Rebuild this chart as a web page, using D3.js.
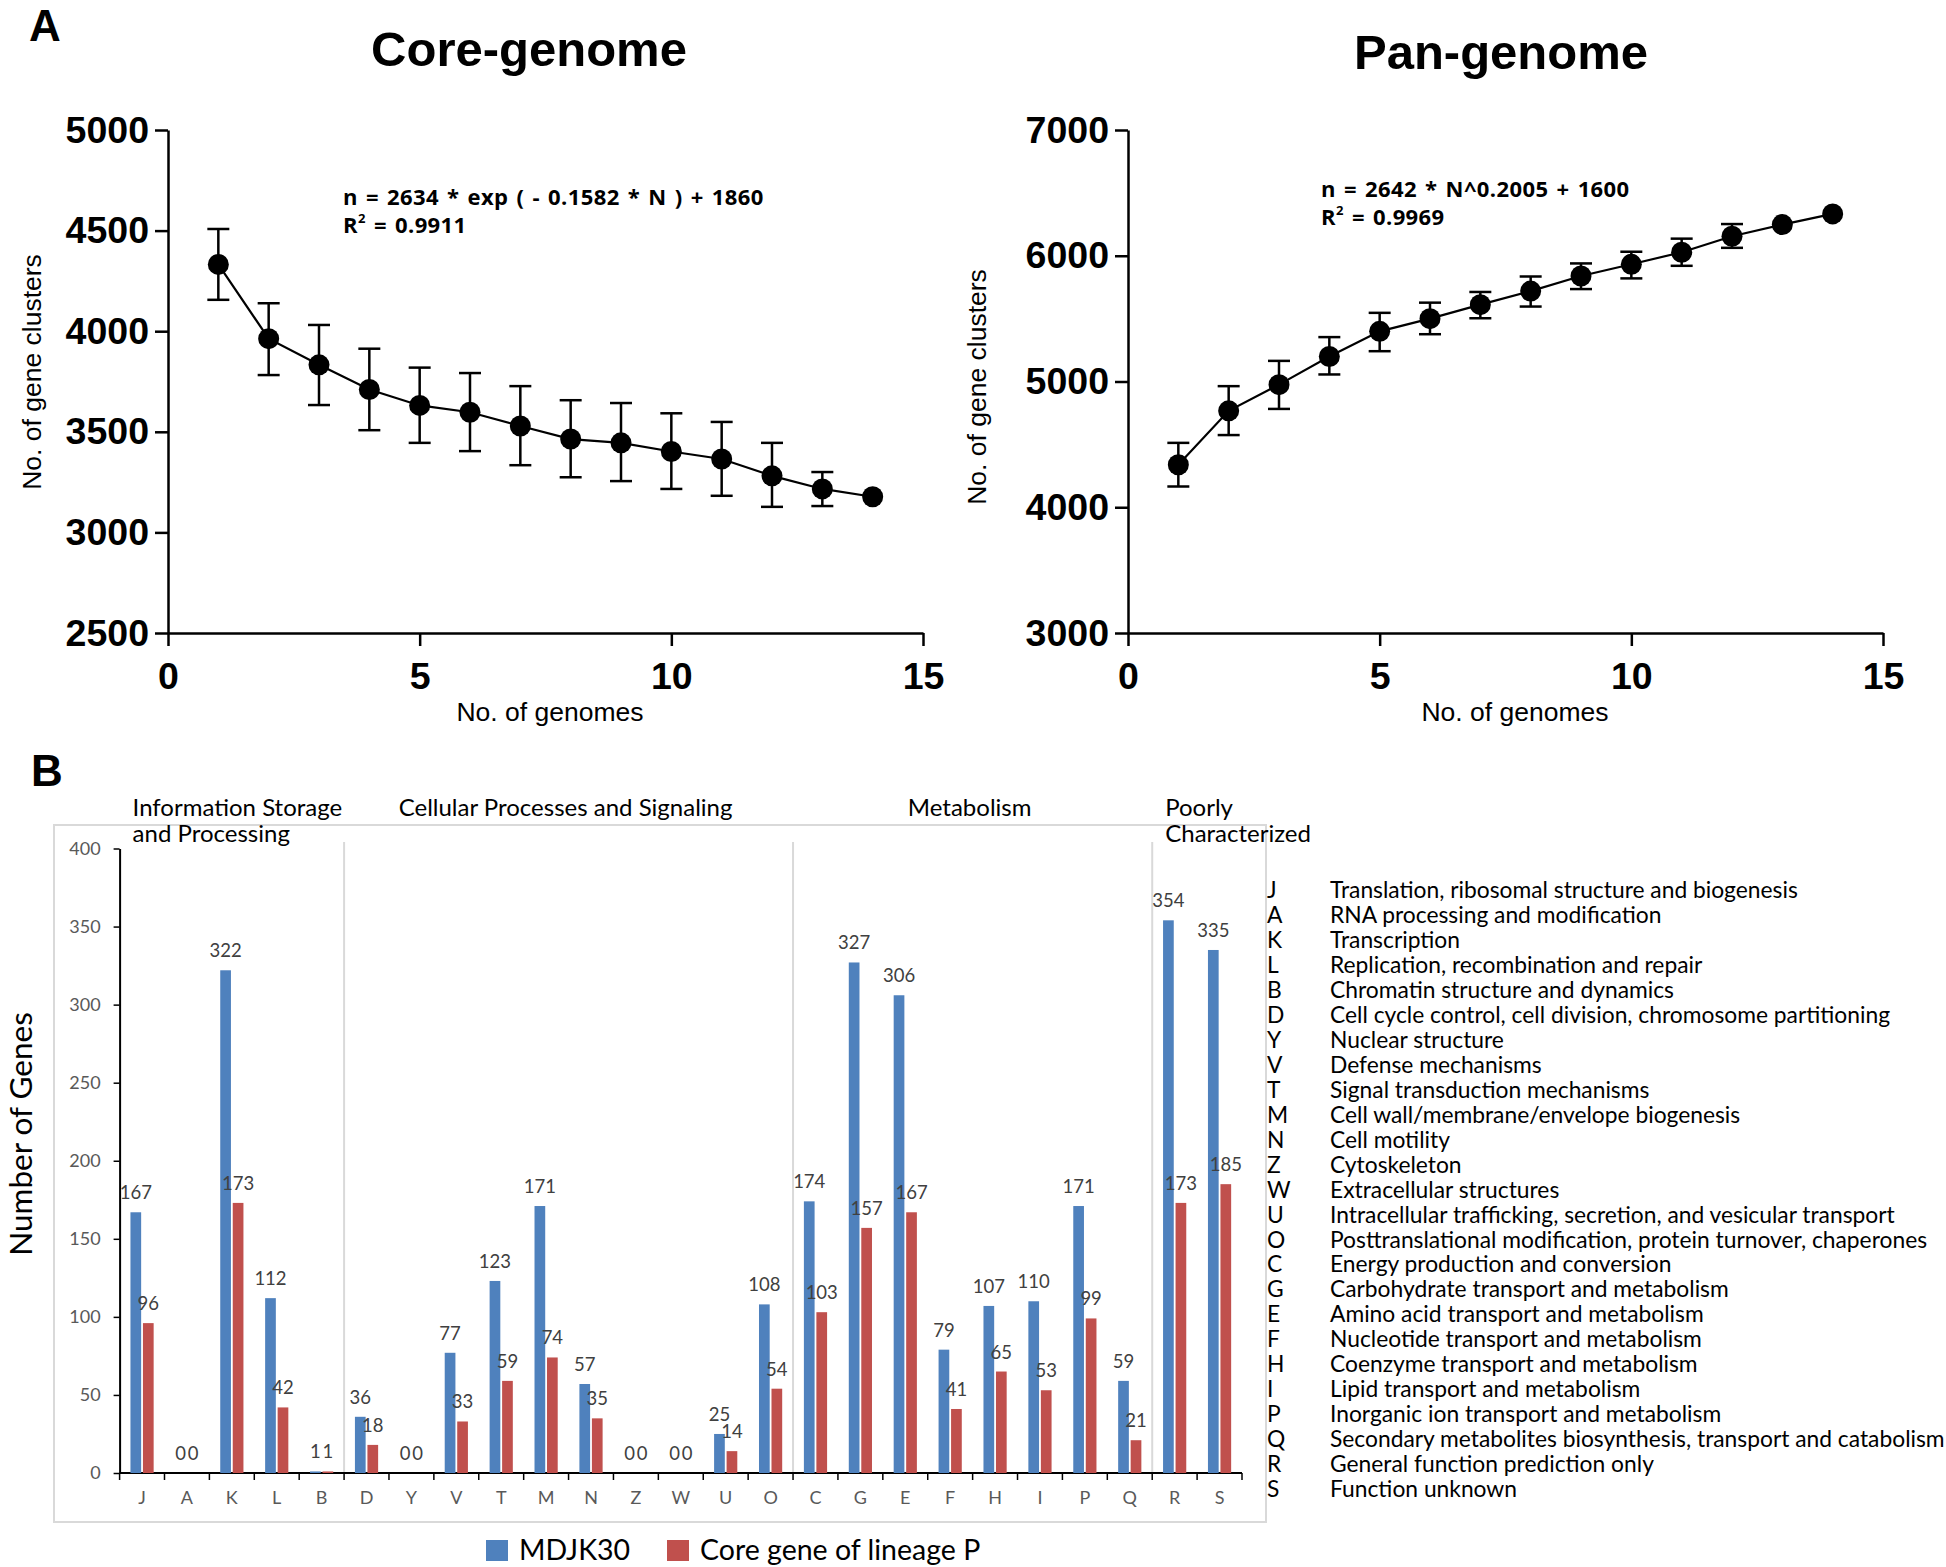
<!DOCTYPE html>
<html>
<head>
<meta charset="utf-8">
<script src="https://cdn.jsdelivr.net/npm/d3@7"></script>
<style>
body { margin: 0; background: #fff; }
</style>
</head>
<body>
<div id="chart"></div>
<script>
// panel A data
var genomes = [1, 2, 3, 4, 5, 6, 7, 8, 9, 10, 11, 12, 13, 14];
var coreMean = [4332, 3963, 3833, 3710, 3631, 3597, 3529, 3464, 3445, 3402, 3365, 3281, 3216, 3177];
var coreLow  = [4156, 3782, 3633, 3508, 3445, 3404, 3334, 3274, 3255, 3216, 3182, 3127, 3131, 3177];
var coreHigh = [4508, 4139, 4031, 3913, 3819, 3792, 3727, 3657, 3643, 3592, 3549, 3445, 3300, 3177];
var panMean = [4338, 4767, 4975, 5199, 5399, 5500, 5611, 5719, 5839, 5932, 6028, 6155, 6248, 6333];
var panLow  = [4165, 4574, 4782, 5056, 5241, 5376, 5503, 5596, 5735, 5820, 5920, 6063, 6248, 6333];
var panHigh = [4512, 4963, 5164, 5353, 5546, 5627, 5712, 5835, 5939, 6032, 6136, 6252, 6248, 6333];
var xTicks = [0, 5, 10, 15];
var coreTicks = [2500, 3000, 3500, 4000, 4500, 5000];
var panTicks = [3000, 4000, 5000, 6000, 7000];

// panel B data
var categories = ["J","A","K","L","B","D","Y","V","T","M","N","Z","W","U","O","C","G","E","F","H","I","P","Q","R","S"];
var mdjk30 = [167, 0, 322, 112, 1, 36, 0, 77, 123, 171, 57, 0, 0, 25, 108, 174, 327, 306, 79, 107, 110, 171, 59, 354, 335];
var coreP  = [96, 0, 173, 42, 1, 18, 0, 33, 59, 74, 35, 0, 0, 14, 54, 103, 157, 167, 41, 65, 53, 99, 21, 173, 185];
var barTicks = [0, 50, 100, 150, 200, 250, 300, 350, 400];
var groupNames = [["Information Storage", "and Processing"], ["Cellular Processes and Signaling"], ["Metabolism"], ["Poorly", "Characterized"]];
var groupStart = [0, 5, 15, 23];
var groupEnd = [5, 15, 23, 25];
var cogNames = [
	"Translation, ribosomal structure and biogenesis",
	"RNA processing and modification",
	"Transcription",
	"Replication, recombination and repair",
	"Chromatin structure and dynamics",
	"Cell cycle control, cell division, chromosome partitioning",
	"Nuclear structure",
	"Defense mechanisms",
	"Signal transduction mechanisms",
	"Cell wall/membrane/envelope biogenesis",
	"Cell motility",
	"Cytoskeleton",
	"Extracellular structures",
	"Intracellular trafficking, secretion, and vesicular transport",
	"Posttranslational modification, protein turnover, chaperones",
	"Energy production and conversion",
	"Carbohydrate transport and metabolism",
	"Amino acid transport and metabolism",
	"Nucleotide transport and metabolism",
	"Coenzyme transport and metabolism",
	"Lipid transport and metabolism",
	"Inorganic ion transport and metabolism",
	"Secondary metabolites biosynthesis, transport and catabolism",
	"General function prediction only",
	"Function unknown"
];
var seriesNames = ["MDJK30", "Core gene of lineage P"];
var seriesColors = ["#4f81bd", "#c0504d"];

var arial = "'Liberation Sans', Arial, sans-serif";
var uiFont = "Lato, 'Noto Sans', sans-serif";

var svg = d3.select("#chart").append("svg")
	.attr("width", 1946)
	.attr("height", 1567)
	.style("background", "#fff");

// panel letters
svg.append("text").attr("x", 29).attr("y", 41).text("A")
	.style("font-family", arial).style("font-weight", "bold").style("font-size", "44px");
svg.append("text").attr("x", 31).attr("y", 786).text("B")
	.style("font-family", arial).style("font-weight", "bold").style("font-size", "44px");

function drawCurve(o) {
	var x = d3.scaleLinear().domain([0, 15]).range([o.left, o.right]);
	var y = d3.scaleLinear().domain(o.yDomain).range([633, 130]);
	var g = svg.append("g");

	g.append("text").attr("x", o.titleX).attr("y", o.titleY)
		.attr("text-anchor", "middle").text(o.title)
		.style("font-family", arial).style("font-weight", "bold").style("font-size", "49px");

	var yAxis = g.append("g").attr("transform", "translate(" + o.left + ",0)")
		.call(d3.axisLeft(y).tickValues(o.yTicks).tickSize(13).tickSizeOuter(0).tickPadding(6).tickFormat(d3.format("d")));
	var xAxis = g.append("g").attr("transform", "translate(0,633)")
		.call(d3.axisBottom(x).tickValues(xTicks).tickSize(13).tickSizeOuter(0).tickPadding(16));
	[xAxis, yAxis].forEach(function(a) {
		a.selectAll("path, line").attr("stroke", "#000").attr("stroke-width", 2.5);
		a.selectAll("text").attr("fill", "#000")
			.style("font-family", arial).style("font-weight", "bold").style("font-size", "37.5px");
	});

	g.append("text").attr("x", o.xTitleX).attr("y", 721)
		.attr("text-anchor", "middle").text("No. of genomes")
		.style("font-family", arial).style("font-size", "26.5px");
	g.append("text").attr("transform", "translate(" + o.yTitleX + "," + o.yTitleY + ") rotate(-90)")
		.attr("text-anchor", "middle").text("No. of gene clusters")
		.style("font-family", arial).style("font-size", "26.5px");

	// fitted equation
	var eq = g.append("g").style("font-family", "'Open Sans', sans-serif")
		.style("font-weight", "bold").style("font-size", "22px")
		.style("word-spacing", "2px").style("letter-spacing", "0.4px");
	eq.append("text").attr("x", o.eqX).attr("y", o.eqY).text(o.eq);
	var r2 = eq.append("text").attr("x", o.eqX).attr("y", o.eqY + 28);
	r2.append("tspan").text("R");
	r2.append("tspan").attr("dy", -10).style("font-size", "13px").text("2");
	r2.append("tspan").attr("dy", 10).text(" = " + o.r2);

	var line = d3.line().x(function(d, i) { return x(genomes[i]); }).y(function(d) { return y(d); });
	g.append("path").datum(o.mean).attr("d", line)
		.attr("fill", "none").attr("stroke", "#000").attr("stroke-width", 2.2);

	genomes.forEach(function(n, i) {
		if (o.high[i] > o.mean[i]) {
			g.append("line").attr("x1", x(n)).attr("x2", x(n))
				.attr("y1", y(o.high[i])).attr("y2", y(o.low[i]))
				.attr("stroke", "#000").attr("stroke-width", 2.5);
			[o.high[i], o.low[i]].forEach(function(v) {
				g.append("line").attr("x1", x(n) - 11).attr("x2", x(n) + 11)
					.attr("y1", y(v)).attr("y2", y(v))
					.attr("stroke", "#000").attr("stroke-width", 2.5);
			});
		}
	});
	g.selectAll("circle.pt").data(o.mean).enter().append("circle")
		.attr("cx", function(d, i) { return x(genomes[i]); })
		.attr("cy", function(d) { return y(d); })
		.attr("r", 10.5).attr("fill", "#000");
}

drawCurve({
	left: 168, right: 923, yDomain: [2500, 5000], yTicks: coreTicks,
	title: "Core-genome", titleX: 529, titleY: 66, xTitleX: 550,
	yTitleX: 41, yTitleY: 372,
	eq: "n = 2634 * exp ( - 0.1582 * N ) + 1860", r2: "0.9911", eqX: 343, eqY: 205,
	mean: coreMean, low: coreLow, high: coreHigh
});
drawCurve({
	left: 1128, right: 1883, yDomain: [3000, 7000], yTicks: panTicks,
	title: "Pan-genome", titleX: 1501, titleY: 69, xTitleX: 1515,
	yTitleX: 986, yTitleY: 387,
	eq: "n = 2642 * N^0.2005 + 1600", r2: "0.9969", eqX: 1321, eqY: 197,
	mean: panMean, low: panLow, high: panHigh
});

// ---------- panel B ----------
var xb = d3.scaleBand().domain(categories).range([119.6, 1242]);
var yb = d3.scaleLinear().domain([0, 400]).range([1473, 848.5]);
var bw = 10.7, gap = 1.8;

svg.append("rect").attr("x", 54).attr("y", 825).attr("width", 1212).attr("height", 697)
	.attr("fill", "none").attr("stroke", "#d9d9d9").attr("stroke-width", 2);

groupStart.slice(1).forEach(function(s) {
	var xx = xb(categories[s]);
	svg.append("line").attr("x1", xx).attr("x2", xx).attr("y1", 842).attr("y2", yb(0))
		.attr("stroke", "#d9d9d9").attr("stroke-width", 2);
});

var yAxB = svg.append("g").attr("transform", "translate(119.6,0)")
	.call(d3.axisLeft(yb).tickValues(barTicks).tickSize(6).tickSizeOuter(0).tickPadding(13));
yAxB.select("path").attr("stroke", "#000").attr("stroke-width", 2);
yAxB.selectAll("line").attr("stroke", "#000").attr("stroke-width", 1.5);
yAxB.selectAll("text").attr("fill", "#595959").style("font-family", uiFont).style("font-size", "18px");

// x axis: line, boundary ticks, letters
svg.append("line").attr("x1", 119.6).attr("x2", 1242).attr("y1", yb(0)).attr("y2", yb(0))
	.attr("stroke", "#000").attr("stroke-width", 2);
categories.concat([null]).forEach(function(c) {
	var xx = c ? xb(c) : xb.range()[1];
	svg.append("line").attr("x1", xx).attr("x2", xx).attr("y1", yb(0)).attr("y2", yb(0) + 7)
		.attr("stroke", "#000").attr("stroke-width", 1.5);
});
svg.selectAll("text.cat").data(categories).enter().append("text")
	.attr("class", "cat")
	.attr("x", function(d) { return xb(d) + xb.bandwidth() / 2; })
	.attr("y", 1504)
	.attr("text-anchor", "middle").attr("fill", "#595959")
	.style("font-family", uiFont).style("font-size", "18px")
	.text(function(d) { return d; });

[mdjk30, coreP].forEach(function(vals, s) {
	var off = s === 0 ? -gap / 2 - bw : gap / 2;
	var bars = svg.append("g");
	bars.selectAll("rect").data(vals).enter().append("rect")
		.attr("x", function(d, i) { return xb(categories[i]) + xb.bandwidth() / 2 + off; })
		.attr("y", function(d) { return yb(d); })
		.attr("width", bw)
		.attr("height", function(d) { return yb(0) - yb(d); })
		.attr("fill", seriesColors[s]);
	bars.selectAll("text").data(vals).enter().append("text")
		.attr("x", function(d, i) { return xb(categories[i]) + xb.bandwidth() / 2 + off + bw / 2; })
		.attr("y", function(d) { return yb(d) - 13; })
		.attr("text-anchor", "middle").attr("fill", "#404040")
		.style("font-family", uiFont).style("font-size", "18.5px")
		.text(function(d) { return d; });
});

// group headers
groupNames.forEach(function(lines, k) {
	var x0 = xb(categories[groupStart[k]]);
	var x1 = groupEnd[k] < categories.length ? xb(categories[groupEnd[k]]) : xb.range()[1];
	var t = svg.append("text").attr("y", 816)
		.style("font-family", uiFont).style("font-size", "24px").attr("fill", "#000");
	lines.forEach(function(l, j) {
		t.append("tspan").attr("dy", j === 0 ? 0 : 26).text(l);
	});
	var w = t.node().getBBox().width;
	var left = Math.max((x0 + x1) / 2 - w / 2 - 3, x0 + 13);
	t.selectAll("tspan").attr("x", left);
});

svg.append("text").attr("transform", "translate(32,1134) rotate(-90)")
	.attr("text-anchor", "middle").text("Number of Genes")
	.style("font-family", uiFont).style("font-size", "31.5px");

// COG legend on the right
categories.forEach(function(c, i) {
	var yy = 890 + i * 24.95;
	svg.append("text").attr("x", 1267).attr("y", yy).attr("dy", "0.36em").text(c)
		.style("font-family", uiFont).style("font-size", "22.8px");
	svg.append("text").attr("x", 1330).attr("y", yy).attr("dy", "0.36em").text(cogNames[i])
		.style("font-family", uiFont).style("font-size", "22.8px");
});

// series legend
var legX = [486, 667];
seriesNames.forEach(function(n, s) {
	svg.append("rect").attr("x", legX[s]).attr("y", 1540).attr("width", 22).attr("height", 21)
		.attr("fill", seriesColors[s]);
	svg.append("text").attr("x", legX[s] + 33).attr("y", 1560).text(n)
		.style("font-family", uiFont).style("font-size", "28.5px");
});
</script>
</body>
</html>
